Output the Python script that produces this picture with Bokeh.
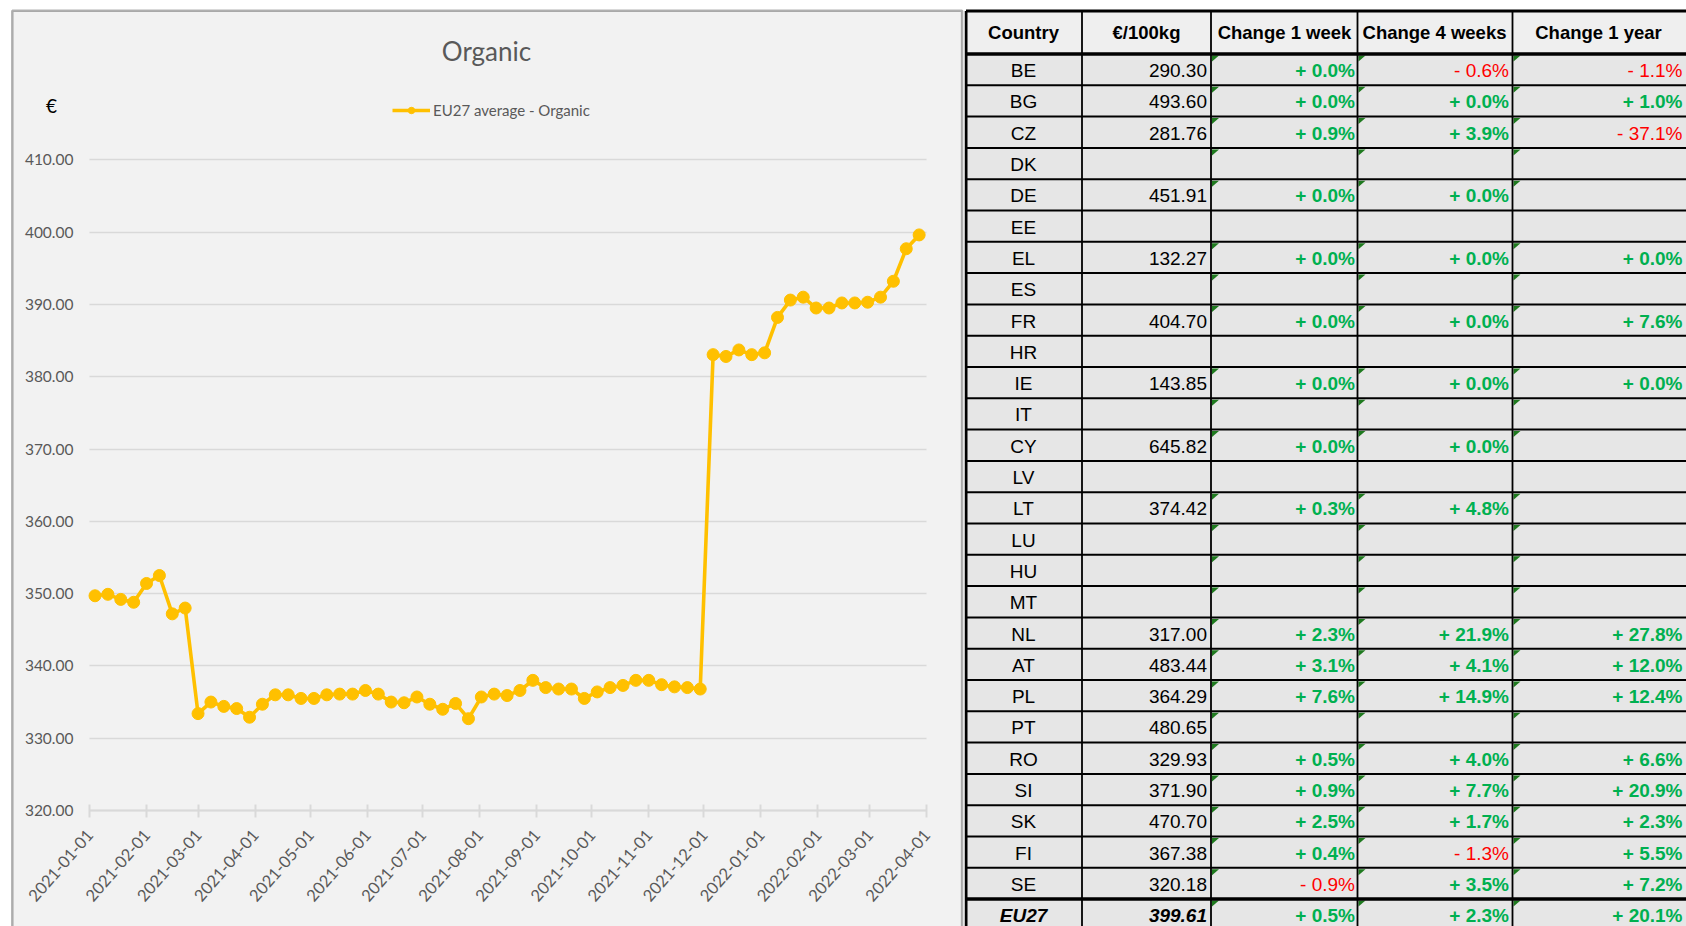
import pandas as pd
from bokeh.plotting import figure
from bokeh.models import (Range1d, FixedTicker, NumeralTickFormatter, DatetimeTickFormatter,
                          DatetimeAxis, LinearAxis, Grid, Legend, LegendItem, Label,
                          BoxAnnotation, ColumnDataSource)
from bokeh.layouts import row
from bokeh.embed import file_html
from bokeh.resources import INLINE
from bokeh.core.properties import value

# ---------------- data ----------------
first_week = "2021-01-04"
eu27_organic = [349.7, 349.9, 349.2, 348.8, 351.4, 352.5, 347.2, 348.0, 333.4, 335.0,
                334.4, 334.1, 332.9, 334.7, 336.0, 336.0, 335.5, 335.5, 336.0, 336.1,
                336.1, 336.6, 336.1, 335.0, 334.9, 335.7, 334.7, 334.0, 334.8, 332.7,
                335.7, 336.1, 335.9, 336.6, 338.0, 337.0, 336.8, 336.8, 335.5, 336.4,
                337.0, 337.3, 338.0, 338.0, 337.4, 337.1, 337.0, 336.8, 383.05, 382.8,
                383.7, 383.05, 383.3, 388.2, 390.6, 391.0, 389.5, 389.5, 390.2, 390.2,
                390.3, 391.0, 393.2, 397.7, 399.61]
month_ticks = ["2021-01-01", "2021-02-01", "2021-03-01", "2021-04-01", "2021-05-01",
               "2021-06-01", "2021-07-01", "2021-08-01", "2021-09-01", "2021-10-01",
               "2021-11-01", "2021-12-01", "2022-01-01", "2022-02-01", "2022-03-01",
               "2022-04-01"]
y_ticks = [320, 330, 340, 350, 360, 370, 380, 390, 400, 410]

headers = ["Country", "€/100kg", "Change 1 week", "Change 4 weeks", "Change 1 year"]
countries = ["BE", "BG", "CZ", "DK", "DE", "EE", "EL", "ES", "FR", "HR", "IE", "IT", "CY",
             "LV", "LT", "LU", "HU", "MT", "NL", "AT", "PL", "PT", "RO", "SI", "SK", "FI",
             "SE", "EU27"]
price = [290.30, 493.60, 281.76, None, 451.91, None, 132.27, None, 404.70, None, 143.85,
         None, 645.82, None, 374.42, None, None, None, 317.00, 483.44, 364.29, 480.65,
         329.93, 371.90, 470.70, 367.38, 320.18, 399.61]
change_1w = [0.0, 0.0, 0.9, None, 0.0, None, 0.0, None, 0.0, None, 0.0, None, 0.0, None,
             0.3, None, None, None, 2.3, 3.1, 7.6, None, 0.5, 0.9, 2.5, 0.4, -0.9, 0.5]
change_4w = [-0.6, 0.0, 3.9, None, 0.0, None, 0.0, None, 0.0, None, 0.0, None, 0.0, None,
             4.8, None, None, None, 21.9, 4.1, 14.9, None, 4.0, 7.7, 1.7, -1.3, 3.5, 2.3]
change_1y = [-1.1, 1.0, -37.1, None, None, None, 0.0, None, 7.6, None, 0.0, None, None, None,
             None, None, None, None, 27.8, 12.0, 12.4, None, 6.6, 20.9, 2.3, 5.5, 7.2, 20.1]
no_flag = ["EE", "HR", "LV"]

CHART_FONT = "Lato"
TABLE_FONT = "Liberation Sans"
GREY_TXT = "#595959"
H = 926

# ---------------- chart (frame covers whole canvas, axes at fixed locations) -------------
W1 = 964
PLOT_L, PLOT_R, PLOT_T, PLOT_B = 89, 926, 159.3, 810   # plot area in canvas pixels

t0 = pd.Timestamp(month_ticks[0]).value / 1e6
t1 = pd.Timestamp(month_ticks[-1]).value / 1e6
px_per_ms = (PLOT_R - PLOT_L) / (t1 - t0)
x_start = t0 - PLOT_L / px_per_ms
x_end = t1 + (W1 - PLOT_R) / px_per_ms
px_per_unit = (PLOT_B - PLOT_T) / (y_ticks[-1] - y_ticks[0])
y_start = y_ticks[0] - (H - PLOT_B) / px_per_unit
y_end = y_ticks[-1] + PLOT_T / px_per_unit

dates = pd.date_range(first_week, periods=len(eu27_organic), freq="7D")
src = ColumnDataSource(dict(date=dates, price=eu27_organic))

p = figure(width=W1, height=H, x_axis_type="datetime",
           x_range=Range1d(x_start, x_end), y_range=Range1d(y_start, y_end),
           min_border=0, x_axis_location=None, y_axis_location=None,
           output_backend="svg", toolbar_location=None,
           background_fill_color="white", border_fill_color="white")
p.outline_line_color = None
for g in list(p.grid):
    g.visible = False

# grey chart panel with black border
p.add_layout(BoxAnnotation(left=11.8, right=961.6, top=H - 10.3, bottom=-20,
                           left_units="screen", right_units="screen",
                           top_units="screen", bottom_units="screen",
                           fill_color="#f2f2f2", fill_alpha=1, line_color="black",
                           line_width=2.5, level="underlay"))

month_ms = [pd.Timestamp(t).value / 1e6 for t in month_ticks]
p.add_layout(Grid(dimension=1, ticker=FixedTicker(ticks=y_ticks),
                  bounds=(y_ticks[0], y_ticks[-1]), cross_bounds=(t0, t1),
                  grid_line_color="#d9d9d9", grid_line_width=1.6))

r_line = p.line("date", "price", source=src, line_color="#ffc000", line_width=3.6)
r_pts = p.scatter("date", "price", source=src, size=12, fill_color="#ffc000",
                  line_color="#ffc000")

fmt = "%Y-%m-%d"
xaxis = DatetimeAxis(fixed_location=y_ticks[0], bounds=(t0, t1),
                     ticker=FixedTicker(ticks=month_ms),
                     formatter=DatetimeTickFormatter(days=fmt, months=fmt, years=fmt,
                                                     hours=fmt, hourmin=fmt, minutes=fmt,
                                                     minsec=fmt, seconds=fmt,
                                                     milliseconds=fmt, microseconds=fmt))
xaxis.major_label_orientation = 0.855
xaxis.axis_line_color = "#d9d9d9"
xaxis.axis_line_width = 2
xaxis.major_tick_line_color = "#d9d9d9"
xaxis.major_tick_line_width = 2
xaxis.major_tick_in = 6
xaxis.major_tick_out = 7
xaxis.minor_tick_line_color = None
xaxis.major_label_standoff = 14
xaxis.major_label_text_font = CHART_FONT
xaxis.major_label_text_font_size = "16.5px"
xaxis.major_label_text_color = GREY_TXT
p.add_layout(xaxis, "below")

yaxis = LinearAxis(fixed_location=t0, ticker=FixedTicker(ticks=y_ticks),
                   formatter=NumeralTickFormatter(format="0.00"))
yaxis.axis_line_color = None
yaxis.major_tick_line_color = None
yaxis.minor_tick_line_color = None
yaxis.major_tick_in = 0
yaxis.major_tick_out = 0
yaxis.major_label_standoff = 16
yaxis.major_label_text_font = CHART_FONT
yaxis.major_label_text_font_size = "15.5px"
yaxis.major_label_text_color = GREY_TXT
p.add_layout(yaxis, "left")

legend = Legend(items=[LegendItem(label="EU27 average - Organic", renderers=[r_line, r_pts])],
                location=(392, H - 119), orientation="horizontal", padding=0, margin=0,
                glyph_width=38, glyph_height=16, label_standoff=3,
                border_line_alpha=0, background_fill_alpha=0,
                label_text_font=CHART_FONT, label_text_font_size="15px",
                label_text_color=GREY_TXT)
p.add_layout(legend)

p.add_layout(Label(x=486, y=H - 50, x_units="screen", y_units="screen", text="Organic",
                   text_align="center", text_baseline="alphabetic", text_font=CHART_FONT,
                   text_font_size="26px", text_color=GREY_TXT))
p.add_layout(Label(x=51, y=H - 105, x_units="screen", y_units="screen", text="€",
                   text_align="center", text_baseline="middle", text_font=CHART_FONT,
                   text_font_size="19px", text_color="black"))

# ---------------- table ----------------
W2 = 722
t = figure(width=W2, height=H, x_range=Range1d(0, W2), y_range=Range1d(H, 0),
           min_border=0, x_axis_location=None, y_axis_location=None,
           output_backend="svg", toolbar_location=None,
           background_fill_color="white", border_fill_color="white")
t.grid.visible = False
t.outline_line_color = None

col_edges = [1.5, 117.5, 246.5, 393, 548]
head_top, head_bot, row_h = 10.5, 53.5, 31.3
n = len(countries)

t.quad(left=[col_edges[0]], right=[W2], top=[head_top], bottom=[head_bot],
       fill_color="#efefef", line_color=None)
t.quad(left=[col_edges[0]], right=[W2], top=[head_bot], bottom=[H],
       fill_color="#e6e6e6", line_color=None)

fx, fy = [], []
for i, c in enumerate(countries):
    if c in no_flag:
        continue
    y0 = head_bot + row_h * i + 1.5
    for e in col_edges[2:5]:
        x0 = e + 1
        fx.append([x0, x0 + 7, x0])
        fy.append([y0, y0, y0 + 6])
t.patches(fx, fy, fill_color="#1f7a1f", line_color=None)

hy = [head_top, head_bot] + [head_bot + row_h * i for i in range(1, n)]
hw = [3, 3.5] + [2] * (n - 2) + [3.5]
t.segment(x0=[col_edges[0]] * len(hy), x1=[W2] * len(hy), y0=hy, y1=hy,
          line_color="black", line_width=hw)
t.segment(x0=col_edges, x1=col_edges, y0=[head_top] * 5, y1=[H] * 5,
          line_color="black", line_width=[3, 1.8, 1.8, 1.8, 1.8])

hx = [59, 182, 320, 470, 634]
t.text(x=hx, y=[(head_top + head_bot) / 2] * 5, text=headers, text_font=value(TABLE_FONT),
       text_font_size="18.5px", text_font_style="bold", text_align="center",
       text_baseline="middle", text_color="black")


def pct(v):
    return ("+ " if v >= 0 else "- ") + f"{abs(v):.1f}%"


ys = [head_bot + row_h * i + row_h / 2 + 1 for i in range(n)]
last = n - 1
t.text(x=[59] * n, y=ys, text=countries, text_font=value(TABLE_FONT), text_font_size="19px",
       text_font_style=["bold italic" if i == last else "normal" for i in range(n)],
       text_align="center", text_baseline="middle", text_color="black")

px, py, pt, ps = [], [], [], []
for i, v in enumerate(price):
    if v is None:
        continue
    px.append(242.5); py.append(ys[i]); pt.append(f"{v:.2f}")
    ps.append("bold italic" if i == last else "normal")
t.text(x=px, y=py, text=pt, text_font=value(TABLE_FONT), text_font_size="19px",
       text_font_style=ps, text_align="right", text_baseline="middle", text_color="black")

cx, cy, ct, cc, cs = [], [], [], [], []
for xr, series in zip([390.5, 544.5, 718], [change_1w, change_4w, change_1y]):
    for i, v in enumerate(series):
        if v is None:
            continue
        cx.append(xr); cy.append(ys[i]); ct.append(pct(v))
        cc.append("#00b050" if v >= 0 else "#ff0000")
        cs.append("bold" if v >= 0 else "normal")
t.text(x=cx, y=cy, text=ct, text_font=value(TABLE_FONT), text_font_size="19px",
       text_font_style=cs, text_align="right", text_baseline="middle", text_color=cc)

layout = row(p, t)
open("out.html", "w").write(file_html(layout, INLINE))
